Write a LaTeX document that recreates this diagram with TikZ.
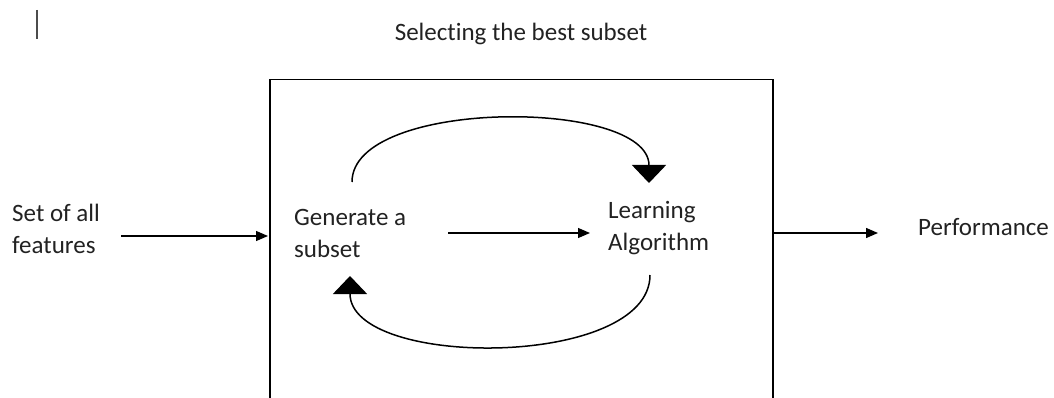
\documentclass[tikz,border=0pt]{standalone}
\usepackage{fontspec}
\setmainfont[Ligatures=NoCommon]{Carlito}
\usetikzlibrary{arrows.meta}
\definecolor{ink}{HTML}{222222}
\tikzset{
  lbl/.style={anchor=base west, inner sep=0pt, text=ink, font=\fontsize{25}{32}\selectfont, align=left},
  flow/.style={line width=1.3pt, -{Triangle[length=12pt,width=10pt]}},
  loop/.style={line width=1.5pt, -{Triangle[length=18pt,width=34pt]}},
}
\begin{document}
\begin{tikzpicture}[x=1pt,y=-1pt]
\path[use as bounding box] (0,0) rectangle (1054,398);
\clip (0,0) rectangle (1054,398);

% text cursor mark
\draw[line width=2pt, black!70] (37,10) -- (37,39);

% enclosing block, running past the lower edge
\node[draw, line width=1.5pt, minimum width=503pt, minimum height=400pt, anchor=north west, inner sep=0pt] (box) at (269,79) {};

\node[lbl, anchor=base] (title) at (521,41) {Selecting the best subset};

% multi-line labels are placed by the baseline of their last line
\node[lbl] (feat) at (12,253) {Set of all\\features};
\node[lbl] (gen) at (294,257) {Generate a\\subset};
\node[lbl] (learn) at (608,250) {Learning\\Algorithm};
\node[lbl] (perf) at (918,235) {Performance};

\coordinate (featR) at (121,236);
\coordinate (boxIn) at (268,236);
\coordinate (genR) at (448,233);
\coordinate (learnL) at (590,233);
\coordinate (boxOut) at (772,233);
\coordinate (perfL) at (878,233);

\draw[flow] (featR) -- (boxIn);
\draw[flow] (genR) -- (learnL);
\draw[flow] (boxOut) -- (perfL);

% feedback loop between the two stages
\coordinate (genTop) at (352,182);
\coordinate (learnTop) at (649,183);
\coordinate (learnBot) at (650,275);
\coordinate (genBot) at (350,276);
\draw[loop] (genTop) .. controls (352,98) and (649,98) .. (learnTop);
\draw[loop] (learnBot) .. controls (650,369) and (350,369) .. (genBot);
\end{tikzpicture}
\end{document}
